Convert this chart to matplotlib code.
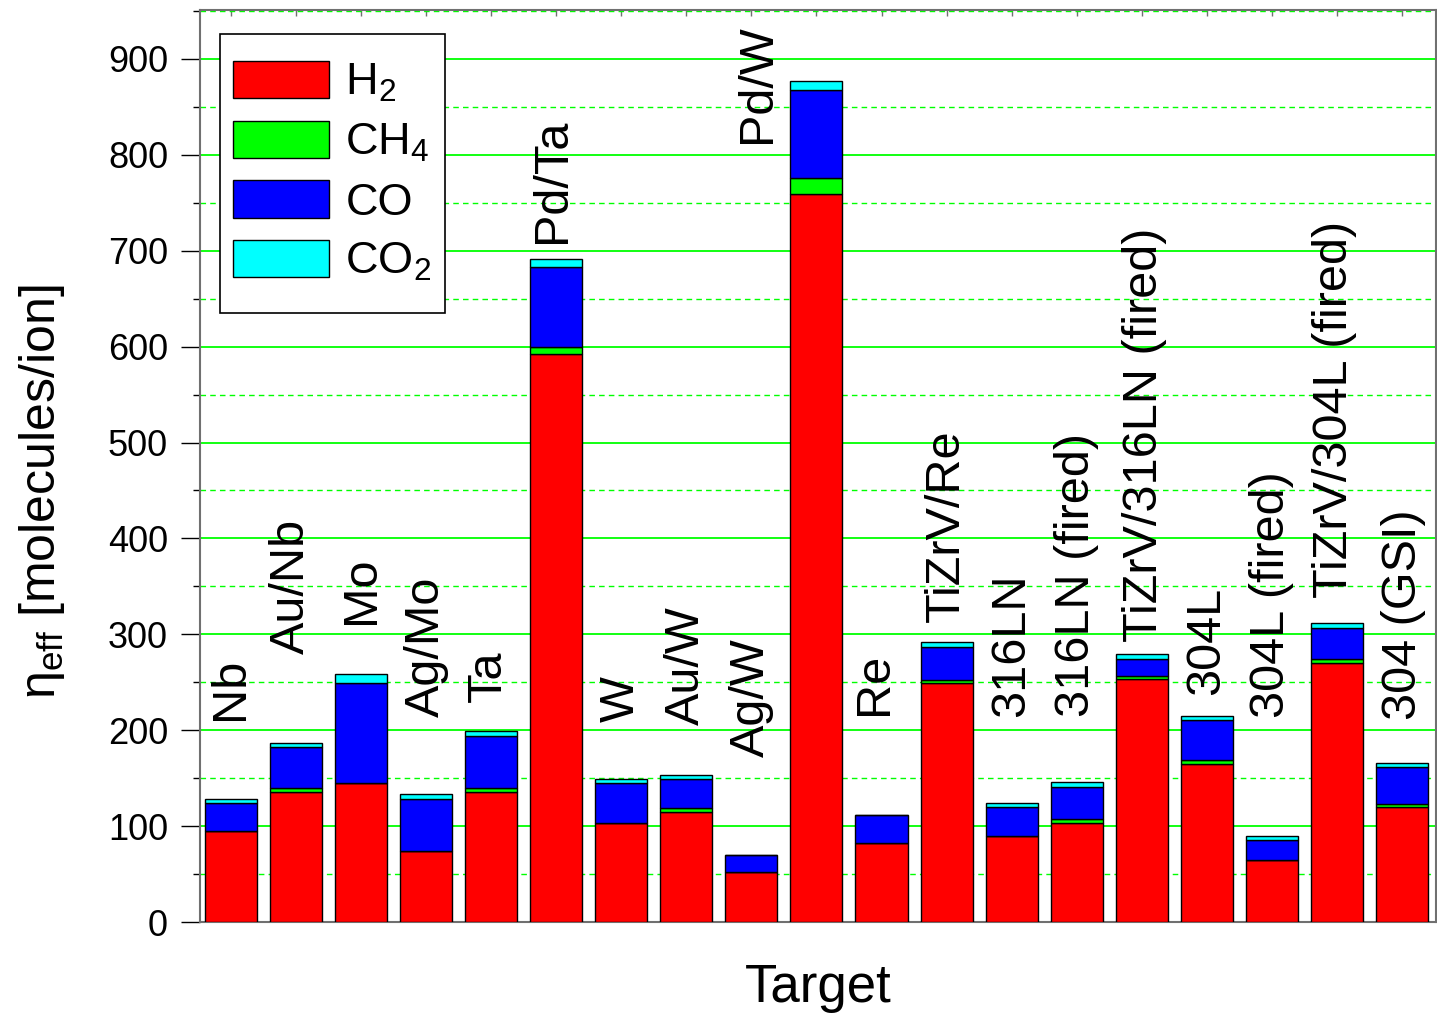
import matplotlib
matplotlib.use('Agg')
import matplotlib.pyplot as plt
from matplotlib.patches import Rectangle
from matplotlib.ticker import MultipleLocator
import numpy as np

plt.rcParams['font.family'] = ['Liberation Sans', 'DejaVu Sans']
plt.rcParams['mathtext.fontset'] = 'custom'
plt.rcParams['mathtext.rm'] = 'Liberation Sans'
plt.rcParams['mathtext.it'] = 'Liberation Sans'
plt.rcParams['mathtext.default'] = 'rm'

# 有效解吸产额 (molecules/ion)
targets = ['Nb', 'Au/Nb', 'Mo', 'Ag/Mo', 'Ta', 'Pd/Ta', 'W', 'Au/W', 'Ag/W',
           'Pd/W', 'Re', 'TiZrV/Re', '316LN', '316LN (fired)',
           'TiZrV/316LN (fired)', '304L', '304L (fired)',
           'TiZrV/304L (fired)', '304 (GSI)']
h2 = [95, 136, 145, 74, 136, 592, 103, 115, 52.5, 759, 82, 249, 90, 103,
      253, 165, 65, 270, 119.5]
ch4 = [0, 4, 0, 0, 4, 8, 0, 4, 0, 17, 0, 3, 0, 4, 4, 4, 0, 4, 4]
co = [29, 42, 104, 54, 54, 83, 42, 30, 17, 92, 29.5, 35, 29.5, 34, 17, 42,
      21, 33, 38]
co2 = [4, 5, 9.5, 5, 5, 8, 4, 4.5, 0.5, 9, 0, 4.5, 4.5, 4.5, 5, 4, 4, 5, 4]

gases = [r'H$_2$', r'CH$_4$', 'CO', r'CO$_2$']
colors = ['#ff0000', '#00ff00', '#0000ff', '#00ffff']

# 标签位置 (相对柱子的偏移, 文字底端高度)
label_dx = [0, -0.07, 0, 0, -0.05, -0.05, 0, 0, 0, -0.9, -0.1, 0, 0, 0,
            0.05, 0, 0, -0.03, 0.03]
label_y = [211, 280, 311, 214, 229, 708, 209, 205, 172, 812, 216, 313, 214,
           214, 292, 237, 213, 338, 211]

fig = plt.figure(figsize=(14.37, 10.14), dpi=100)
ax = fig.add_axes([0.1392, 0.0907, 0.8601, 0.8994])

x = np.arange(len(targets))
bottom = np.zeros(len(targets))
for vals, name, c in zip([h2, ch4, co, co2], gases, colors):
    ax.bar(x, vals, width=0.8, bottom=bottom, color=c, edgecolor='black',
           linewidth=1.0, label=name, zorder=3)
    bottom += np.array(vals)

for i, name in enumerate(targets):
    ax.text(x[i] + label_dx[i], label_y[i], name, rotation=90,
            ha='center', va='bottom', fontsize=35, zorder=4)

ax.set_xlim(-0.476, 18.524)
ax.set_ylim(0, 951)
ax.yaxis.set_major_locator(MultipleLocator(100))
ax.yaxis.set_minor_locator(MultipleLocator(50))
ax.set_xticks(x)
ax.set_xticklabels([])
ax.tick_params(axis='x', direction='in', length=4, width=1, color='#707070',
               top=True, bottom=True)
ax.tick_params(axis='y', which='major', direction='out', length=14,
               width=1, labelsize=26, pad=9)
ax.tick_params(axis='y', which='minor', direction='out', length=5, width=1)

ax.grid(axis='y', which='major', color='#00ff00', linewidth=1.3, zorder=0)
ax.grid(axis='y', which='minor', color='#00ff00', linewidth=1.0,
        linestyle=(0, (4, 3)), zorder=0)
ax.set_axisbelow(True)

for side in ['left', 'right', 'top', 'bottom']:
    ax.spines[side].set_color('#707070')
    ax.spines[side].set_linewidth(1.5)

ax.set_xlabel('Target', fontsize=38, labelpad=26)
ax.set_ylabel(r'η$_{eff}$ [molecules/ion]', fontsize=36)
ax.yaxis.set_label_coords(-0.108, 0.4715)

# 图例外框单独画, 图例本身不带框
ax.add_patch(Rectangle((0.0162, 0.6678), 0.182, 0.306, transform=ax.transAxes,
                       facecolor='white', edgecolor='black', linewidth=1.2,
                       zorder=5))
leg = ax.legend(loc='upper left', bbox_to_anchor=(0.0267, 0.944),
                borderaxespad=0, fontsize=32.5, handlelength=2.13,
                handleheight=0.89, labelspacing=0.36, handletextpad=0.36,
                borderpad=0, frameon=False)
leg.set_zorder(6)

plt.savefig('out.png', dpi=100)
